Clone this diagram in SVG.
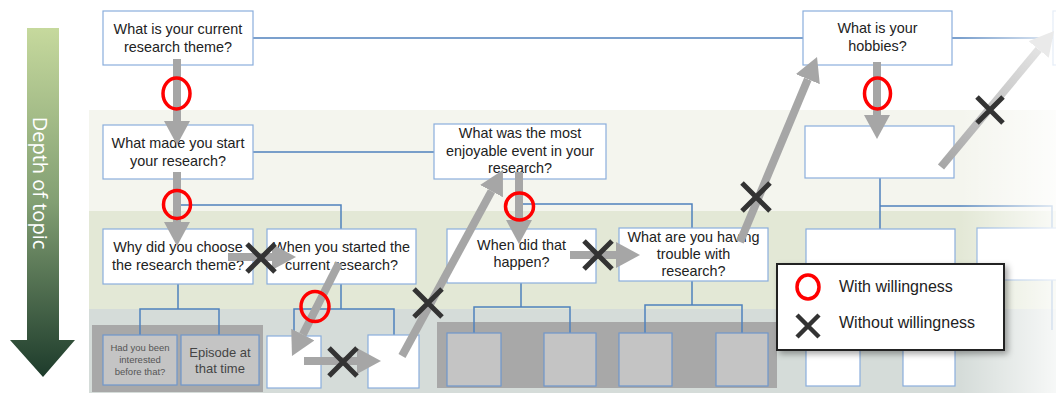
<svg xmlns="http://www.w3.org/2000/svg" width="1056" height="395" viewBox="0 0 1056 395">
  <defs>
    <linearGradient id="depthGrad" x1="0" y1="0" x2="0" y2="1">
      <stop offset="0" stop-color="#c6d99d"/>
      <stop offset="0.5" stop-color="#829f73"/>
      <stop offset="1" stop-color="#1d3b2b"/>
    </linearGradient>
    <linearGradient id="rightFade" x1="0" y1="0" x2="1" y2="0">
      <stop offset="0" stop-color="#ffffff" stop-opacity="0"/>
      <stop offset="1" stop-color="#ffffff" stop-opacity="0.8"/>
    </linearGradient>
    <linearGradient id="fadeArrow" gradientUnits="userSpaceOnUse" x1="941" y1="167" x2="1054" y2="31">
      <stop offset="0" stop-color="#a6a6a6"/>
      <stop offset="1" stop-color="#ececec"/>
    </linearGradient>
    <marker id="head" markerUnits="userSpaceOnUse" viewBox="0 0 24 26" markerWidth="24" markerHeight="26" refX="0" refY="13" orient="auto">
      <path d="M0,0 L24,13 L0,26 Z" fill="#a6a6a6"/>
    </marker>
    <marker id="headFaded" markerUnits="userSpaceOnUse" viewBox="0 0 24 26" markerWidth="24" markerHeight="26" refX="0" refY="13" orient="auto">
      <path d="M0,0 L24,13 L0,26 Z" fill="#eaeaea"/>
    </marker>
    <filter id="shadow" x="-10%" y="-20%" width="130%" height="150%">
      <feDropShadow dx="3" dy="3" stdDeviation="3" flood-color="#000" flood-opacity="0.35"/>
    </filter>
    <style>
      .node { fill: #ffffff; stroke: #8aaedc; stroke-width: 1.2; }
      .leaf { fill: #c4c4c4; stroke: #6f97cc; stroke-width: 1.2; }
      .panel { fill: #a8a8a8; }
      .label { font-family: "Liberation Sans", Arial, sans-serif; font-size: 14.4px; fill: #222; text-anchor: middle; }
      .small { font-family: "Liberation Sans", Arial, sans-serif; font-size: 9.5px; fill: #555; text-anchor: middle; }
      .mid { font-family: "Liberation Sans", Arial, sans-serif; font-size: 13px; fill: #444; text-anchor: middle; }
      .conn { fill: none; stroke: #4f81bd; stroke-width: 1.5; }
      .flow { stroke: #a6a6a6; stroke-width: 8; fill: none; marker-end: url(#head); }
      .ok { fill: none; stroke: #ff0000; stroke-width: 3.5; }
      .ng { stroke: #333; stroke-width: 5; }
      .legend-text { font-family: "Liberation Sans", Arial, sans-serif; font-size: 16px; fill: #222; }
    </style>
  </defs>

  <!-- background -->
  <rect x="0" y="0" width="1056" height="395" fill="#ffffff"/>

  <!-- depth bands -->
  <g id="bands">
    <rect x="89" y="110" width="967" height="101" fill="#f4f5ee"/>
    <rect x="89" y="211" width="967" height="98" fill="#e3e8d6"/>
    <rect x="89" y="309" width="967" height="84" fill="#d5dcd9"/>
    <rect class="panel" x="92" y="325" width="171" height="67"/>
    <rect class="panel" x="437" y="322" width="340" height="66"/>
  </g>

  <!-- depth arrow -->
  <g id="depth">
    <polygon points="27,28 59,28 59,340 75,340 43,377 10,340 27,340" fill="url(#depthGrad)"/>
    <text x="0" y="0" transform="translate(40,183) rotate(90)" font-family="'Open Sans', 'Liberation Sans', sans-serif" font-size="20" fill="#ffffff" text-anchor="middle" dominant-baseline="central">Depth of topic</text>
  </g>

  <!-- tree connectors -->
  <g id="connectors">
    <path class="conn" d="M253,38 H803"/>
    <path class="conn" d="M952,38 H1053"/>
    <path class="conn" d="M253,152 H434"/>
    <path class="conn" d="M178,180 V229"/>
    <path class="conn" d="M178,205 H341 V229"/>
    <path class="conn" d="M178,284 V309 M140,335 V309 H219 V335"/>
    <path class="conn" d="M341,284 V309 M294,336 V309 H394 V335"/>
    <path class="conn" d="M520,179 V229"/>
    <path class="conn" d="M520,204 H692 V228"/>
    <path class="conn" d="M521,283 V307 M474,333 V307 H570 V333"/>
    <path class="conn" d="M692,281 V305 M645,333 V305 H742 V333"/>
    <path class="conn" d="M878,65 V126"/>
    <path class="conn" d="M880,178 V229"/>
    <path class="conn" d="M880,206 H1052 V228"/>
    <path class="conn" d="M880,284 V307 M833,333 V307 H929 V333"/>
    <path class="conn" d="M1052,280 V330"/>
  </g>

  <!-- question nodes -->
  <g id="q-theme">
    <rect class="node" x="103" y="11" width="150" height="54"/>
    <text class="label" x="178" y="34">What is your current</text>
    <text class="label" x="178" y="52">research theme?</text>
  </g>
  <g id="q-start">
    <rect class="node" x="103" y="125" width="150" height="54"/>
    <text class="label" x="178" y="148">What made you start</text>
    <text class="label" x="178" y="166">your research?</text>
  </g>
  <g id="q-enjoy">
    <rect class="node" x="434" y="124" width="172" height="55"/>
    <text class="label" x="520" y="138">What was the most</text>
    <text class="label" x="520" y="156">enjoyable event in your</text>
    <text class="label" x="520" y="173">research?</text>
  </g>
  <g id="q-hobby">
    <rect class="node" x="803" y="11" width="149" height="54"/>
    <text class="label" x="877.5" y="33">What is your</text>
    <text class="label" x="877.5" y="51">hobbies?</text>
  </g>
  <g id="q-next">
    <rect class="node" x="1053" y="11" width="150" height="54"/>
  </g>
  <g id="q-hobby-2">
    <rect class="node" x="805" y="126" width="149" height="52"/>
  </g>
  <g id="q-why">
    <rect class="node" x="103" y="229" width="150" height="55"/>
    <text class="label" x="178" y="252">Why did you choose</text>
    <text class="label" x="178" y="270">the research theme?</text>
  </g>
  <g id="q-when-start">
    <rect class="node" x="267" y="229" width="149" height="55"/>
    <text class="label" x="341.5" y="252">When you started the</text>
    <text class="label" x="341.5" y="270">current research?</text>
  </g>
  <g id="q-when-happen">
    <rect class="node" x="447" y="229" width="149" height="54"/>
    <text class="label" x="521.5" y="250">When did that</text>
    <text class="label" x="521.5" y="267">happen?</text>
  </g>
  <g id="q-trouble">
    <rect class="node" x="619" y="228" width="149" height="53"/>
    <text class="label" x="693.5" y="242">What are you having</text>
    <text class="label" x="693.5" y="259">trouble with</text>
    <text class="label" x="693.5" y="276">research?</text>
  </g>
  <g id="q-hobby-3">
    <rect class="node" x="806" y="229" width="149" height="55"/>
  </g>
  <g id="q-side">
    <rect class="node" x="977" y="228" width="150" height="52"/>
  </g>

  <!-- deepest level -->
  <g id="q-interested">
    <rect class="leaf" x="103" y="335" width="74" height="50"/>
    <text class="small" x="140" y="351">Had you been</text>
    <text class="small" x="140" y="363">interested</text>
    <text class="small" x="140" y="374.5">before that?</text>
  </g>
  <g id="q-episode">
    <rect class="leaf" x="181" y="335" width="78" height="50"/>
    <text class="mid" x="220" y="356.5">Episode at</text>
    <text class="mid" x="220" y="372.5">that time</text>
  </g>
  <g id="leaf-a"><rect class="node" x="267" y="336" width="54" height="52"/></g>
  <g id="leaf-b"><rect class="node" x="368" y="335" width="51" height="53"/></g>
  <g id="leaf-c"><rect class="leaf" x="447" y="333" width="54" height="53"/></g>
  <g id="leaf-d"><rect class="leaf" x="544" y="333" width="52" height="53"/></g>
  <g id="leaf-e"><rect class="leaf" x="619" y="333" width="53" height="53"/></g>
  <g id="leaf-f"><rect class="leaf" x="716" y="333" width="52" height="53"/></g>
  <g id="leaf-g"><rect class="node" x="806" y="333" width="54" height="53"/></g>
  <g id="leaf-h"><rect class="node" x="903" y="333" width="52" height="53"/></g>

  <!-- right-hand fade -->
  <rect x="960" y="0" width="96" height="395" fill="url(#rightFade)"/>

  <!-- conversation flow -->
  <g id="flow">
    <line class="flow" x1="177" y1="59" x2="177" y2="121"/>
    <line class="flow" x1="177" y1="172" x2="177" y2="222"/>
    <line class="flow" x1="228" y1="257" x2="272" y2="257"/>
    <line class="flow" x1="339" y1="263" x2="302.8" y2="334.6"/>
    <line class="flow" x1="304" y1="361" x2="357" y2="361"/>
    <line class="flow" x1="402" y1="356" x2="491.5" y2="191.1"/>
    <line class="flow" x1="519" y1="172" x2="519" y2="220"/>
    <line class="flow" x1="570" y1="255" x2="616" y2="255"/>
    <line class="flow" x1="740" y1="242" x2="807.8" y2="79.2"/>
    <line class="flow" x1="877" y1="62" x2="877" y2="115"/>
    <line x1="941" y1="167" x2="1038.7" y2="49.5" stroke="url(#fadeArrow)" stroke-width="8" marker-end="url(#headFaded)"/>
  </g>

  <!-- willingness marks -->
  <g id="marks-ok">
    <ellipse class="ok" cx="176.5" cy="93.5" rx="13.5" ry="15.5"/>
    <ellipse class="ok" cx="177" cy="204.5" rx="13.5" ry="14"/>
    <ellipse class="ok" cx="315" cy="306.5" rx="14" ry="15"/>
    <ellipse class="ok" cx="519.5" cy="206.5" rx="14" ry="13.5"/>
    <ellipse class="ok" cx="877.5" cy="93.5" rx="13" ry="15.5"/>
  </g>
  <g id="marks-ng">
    <path class="ng" d="M247,244 L275,272 M275,244 L247,272"/>
    <path class="ng" d="M329,348 L357,376 M357,348 L329,376"/>
    <path class="ng" d="M414,289 L442,317 M442,289 L414,317"/>
    <path class="ng" d="M584,241 L612,269 M612,241 L584,269"/>
    <path class="ng" d="M742,183 L770,211 M770,183 L742,211"/>
    <path class="ng" d="M977,97 L1003,123 M1003,97 L977,123"/>
  </g>

  <!-- legend -->
  <g id="legend">
    <rect x="777" y="264" width="227" height="86" fill="#ffffff" stroke="#222" stroke-width="2" filter="url(#shadow)"/>
    <ellipse cx="808" cy="287" rx="11" ry="12" fill="none" stroke="#ff0000" stroke-width="3.5"/>
    <text class="legend-text" x="839" y="292">With willingness</text>
    <path d="M797,315 L819,337 M819,315 L797,337" stroke="#333" stroke-width="4.5"/>
    <text class="legend-text" x="839" y="328">Without willingness</text>
  </g>
</svg>
